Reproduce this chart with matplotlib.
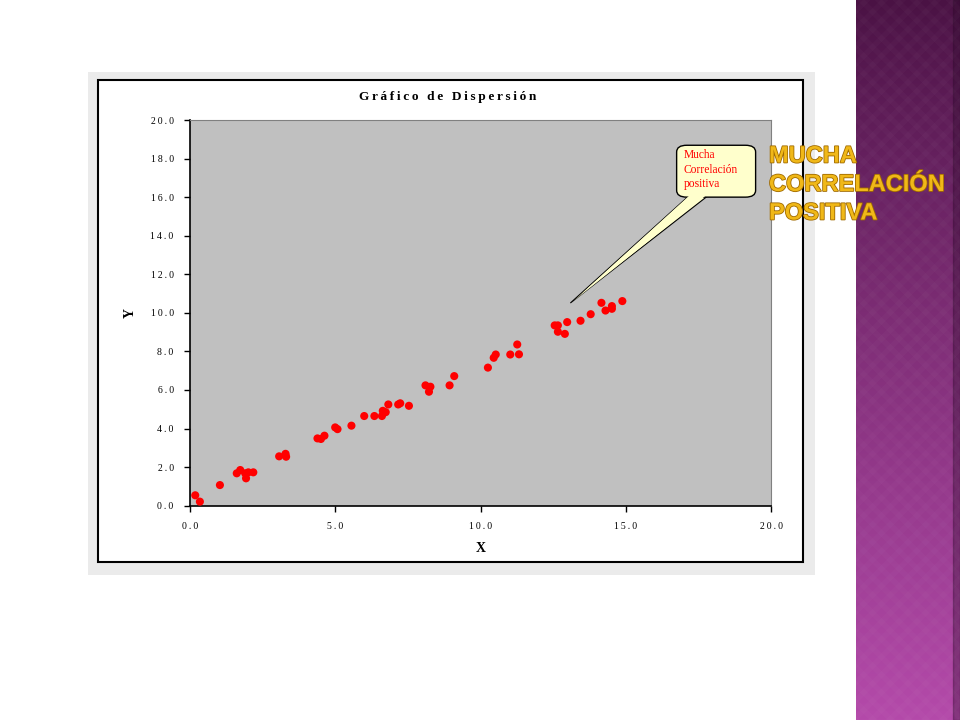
import numpy as np
import matplotlib
matplotlib.use("Agg")
import matplotlib.pyplot as plt
from matplotlib.patches import Rectangle, FancyBboxPatch, Polygon
import matplotlib.patheffects as pe

# data
x_vals = [0.17, 0.33, 1.02, 1.60, 1.72, 1.89, 1.92, 2.00, 2.17, 3.06,
          3.28, 3.30, 4.38, 4.50, 4.62, 4.99, 5.07, 5.55, 5.99, 6.34,
          6.60, 6.63, 6.73, 6.82, 7.16, 7.23, 7.53, 8.10, 8.27, 8.22,
          8.93, 9.09, 10.25, 10.45, 10.52, 11.02, 11.26, 11.32, 12.55, 12.66,
          12.66, 12.90, 12.98, 13.44, 13.79, 14.16, 14.30, 14.52, 14.52, 14.88]
y_vals = [0.54, 0.21, 1.07, 1.68, 1.85, 1.68, 1.42, 1.73, 1.73, 2.56,
          2.69, 2.54, 3.49, 3.46, 3.63, 4.06, 3.97, 4.15, 4.65, 4.65,
          4.65, 4.92, 4.85, 5.25, 5.25, 5.31, 5.18, 6.24, 6.17, 5.91,
          6.24, 6.72, 7.16, 7.67, 7.84, 7.84, 8.36, 7.85, 9.35, 9.35,
          9.02, 8.91, 9.52, 9.59, 9.93, 10.52, 10.12, 10.35, 10.21, 10.61]
x_ticks = [0, 5, 10, 15, 20]
y_ticks = [0, 2, 4, 6, 8, 10, 12, 14, 16, 18, 20]

chart_title = "Gráfico de Dispersión"
callout_text = "Mucha\nCorrelación\npositiva"
slide_title = ["MUCHA", "CORRELACIÓN", "POSITIVA"]

W, H = 960, 720
SERIF = ["Liberation Serif", "DejaVu Serif"]


def fx(px):
    return px / W


def fy(py):
    return 1 - py / H


def spaced(s):
    # old Excel charts draw text with loose letter spacing
    return "\u2009".join(s)


fig = plt.figure(figsize=(9.6, 7.2), dpi=100)
fig.patch.set_facecolor("white")

# grey frame and white chart area
fig.patches.append(Rectangle((fx(88), fy(575)), fx(815) - fx(88), fy(72) - fy(575),
                             transform=fig.transFigure, facecolor="#ebebeb",
                             edgecolor="none", zorder=0))
fig.patches.append(Rectangle((fx(98), fy(562)), fx(803) - fx(98), fy(80) - fy(562),
                             transform=fig.transFigure, facecolor="white",
                             edgecolor="black", lw=1.5, zorder=1))

# purple side band with gradient and faint diamond pattern
band = fig.add_axes([fx(856), 0, 1 - fx(856), 1], zorder=0)
top = np.array([0x4a, 0x12, 0x44]) / 255
bot = np.array([0xb4, 0x4a, 0xaa]) / 255
t = np.linspace(0, 1, 256)[:, None, None]
grad = top + (bot - top) * t ** 0.9
grad = np.repeat(grad, 10, axis=1)
band.imshow(grad, aspect="auto", extent=[0, 1, 0, 1], origin="upper")
slope = 104 / 720
for k in np.arange(-7.5, 1.5, 0.17):
    band.plot([k, k + 7.5], [0, 7.5 * slope], color="#ffffff", lw=4, alpha=0.018)
    band.plot([k, k + 7.5], [7.5 * slope, 0], color="#ffffff", lw=4, alpha=0.018)
band.fill_between([0.935, 1.0], 0, 1, color="#2a0828", alpha=0.35)
band.set_xlim(0, 1)
band.set_ylim(0, 1)
band.axis("off")

# scatter plot
ax = fig.add_axes([fx(190.3), fy(505.7), fx(771) - fx(190.3), fy(120) - fy(505.7)], zorder=2)
ax.set_facecolor("#c0c0c0")
ax.scatter(x_vals, y_vals, s=34, color="#ff0000", edgecolors="none", zorder=3)
ax.set_xlim(0, 20)
ax.set_ylim(0, 20)
ax.set_xticks(x_ticks)
ax.set_yticks(y_ticks)
ax.set_xticklabels([spaced(f"{v:.1f}") for v in x_ticks], fontsize=7, family=SERIF)
ax.set_yticklabels([spaced(f"{v:.1f}") for v in y_ticks], fontsize=7, family=SERIF)
ax.tick_params(direction="out", length=4, width=1, pad=8)
for side in ["left", "bottom"]:
    ax.spines[side].set_linewidth(1.2)
for side in ["top", "right"]:
    ax.spines[side].set_color("#808080")
ax.set_xlabel("X", fontsize=10, fontweight="bold", family=SERIF, labelpad=8)
ax.set_ylabel("Y", fontsize=10, fontweight="bold", family=SERIF, labelpad=10)
fig.text(fx(448), fy(97), spaced(chart_title), fontsize=9.6, fontweight="bold",
         family=SERIF, ha="center", va="center", zorder=3)

# callout bubble
ax.add_patch(Polygon([(17.16, 16.05), (17.81, 16.05), (13.09, 10.51)], closed=True,
                     facecolor="#ffffcc", edgecolor="black", lw=0.8, zorder=4))
ax.add_patch(FancyBboxPatch((16.75, 16.0), 2.72, 2.69,
                            boxstyle="round,pad=0,rounding_size=0.35",
                            facecolor="#ffffcc", edgecolor="black", lw=1.0, zorder=5))
ax.add_patch(Polygon([(17.20, 16.1), (17.77, 16.1), (13.2, 10.62)], closed=True,
                     facecolor="#ffffcc", edgecolor="none", zorder=6))
ax.text(16.98, 18.5, callout_text, fontsize=8.3, color="#ff0000",
        family=SERIF, va="top", ha="left", linespacing=1.3, zorder=7)

# slide title in gold
for i, line in enumerate(slide_title):
    fig.text(fx(769), fy(156 + i * 28.5), line, fontsize=17, fontweight="bold",
             family="Liberation Sans", color="#f0b818", ha="left", va="center", zorder=5,
             path_effects=[pe.withStroke(linewidth=1.2, foreground="#a06a00")])

fig.savefig("out.png", dpi=100)
